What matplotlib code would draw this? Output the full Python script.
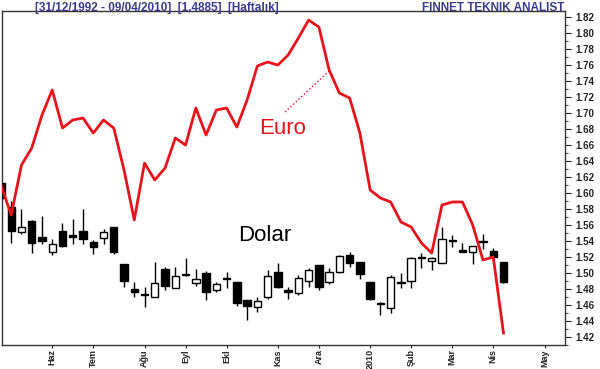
import matplotlib
matplotlib.use("Agg")
from matplotlib import pyplot as plt
from matplotlib.ticker import MultipleLocator

plt.rcParams['font.family'] = ['Liberation Sans', 'DejaVu Sans']

# weekly USD candles (open, high, low, close)
dolar_open = [1.6125, 1.5825, 1.551, 1.565, 1.545, 1.526, 1.5525, 1.547, 1.5525, 1.539,
              1.5438, 1.5575, 1.5113, 1.48, 1.4738, 1.47, 1.505, 1.4813, 1.4988, 1.4875,
              1.5, 1.4788, 1.4938, 1.4888, 1.4663, 1.4575, 1.47, 1.5013, 1.4788, 1.475,
              1.49, 1.51, 1.4888, 1.5013, 1.5225, 1.5138, 1.4888, 1.4613, 1.4563, 1.4888,
              1.49, 1.52, 1.515, 1.5125, 1.5413, 1.5288, 1.5263, 1.5388, 1.5275, 1.5138]
dolar_high = [1.615, 1.59, 1.58, 1.5663, 1.571, 1.5425, 1.5625, 1.5675, 1.58, 1.5413,
              1.555, 1.5575, 1.5113, 1.4888, 1.4825, 1.5138, 1.5075, 1.5075, 1.5188, 1.505,
              1.5025, 1.4888, 1.5013, 1.4888, 1.4663, 1.47, 1.5038, 1.5125, 1.4825, 1.4975,
              1.5063, 1.51, 1.5063, 1.522, 1.5263, 1.5138, 1.4888, 1.4638, 1.4975, 1.5,
              1.52, 1.525, 1.52, 1.5575, 1.5475, 1.5375, 1.5338, 1.5488, 1.5313, 1.5138]
dolar_low = [1.59, 1.5375, 1.549, 1.525, 1.536, 1.5225, 1.5325, 1.536, 1.536, 1.5238,
             1.536, 1.5238, 1.4825, 1.47, 1.4575, 1.47, 1.4788, 1.4813, 1.4963, 1.4838,
             1.4663, 1.4763, 1.4813, 1.4588, 1.4413, 1.4513, 1.4675, 1.4813, 1.4675, 1.4725,
             1.4825, 1.4788, 1.4863, 1.5, 1.5075, 1.4925, 1.4663, 1.4475, 1.45, 1.4813,
             1.4813, 1.5063, 1.5038, 1.5125, 1.5325, 1.5263, 1.5113, 1.53, 1.52, 1.4875]
dolar_close = [1.594, 1.5525, 1.5575, 1.5375, 1.54, 1.536, 1.5338, 1.5455, 1.5425, 1.5325,
               1.5513, 1.5263, 1.49, 1.4763, 1.4725, 1.4875, 1.4838, 1.4963, 1.4975, 1.4925,
               1.4763, 1.4863, 1.4925, 1.4625, 1.4588, 1.465, 1.4963, 1.4825, 1.4763, 1.4938,
               1.5038, 1.4825, 1.5013, 1.5213, 1.5125, 1.4988, 1.4675, 1.4625, 1.495, 1.4875,
               1.5188, 1.5188, 1.5188, 1.5425, 1.54, 1.5263, 1.5338, 1.54, 1.52, 1.4885]

# weekly euro closes
euro = [1.61, 1.5725, 1.635, 1.6563, 1.6975, 1.7288, 1.6813, 1.6913, 1.6938, 1.675,
        1.6913, 1.6813, 1.6288, 1.5663, 1.6375, 1.6163, 1.6313, 1.6688, 1.66, 1.7063,
        1.6725, 1.7038, 1.7063, 1.6825, 1.7163, 1.7588, 1.7638, 1.76, 1.7725, 1.7938,
        1.8163, 1.8075, 1.7538, 1.725, 1.7188, 1.675, 1.6038, 1.5938, 1.5888, 1.5638,
        1.5575, 1.5375, 1.525, 1.585, 1.5888, 1.5888, 1.56, 1.5163, 1.52, 1.425]

month_pos = [5, 9, 14, 18, 22, 27, 31, 36, 40, 44, 48, 53]
month_labels = ["Haz", "Tem", "Ağu", "Eyl", "Ekl", "Kas", "Ara", "2010", "Şub", "Mar", "Nis", "May"]

fig = plt.figure(figsize=(6, 3.69), dpi=100)
ax = fig.add_axes([0.0033, 0.065, 0.9384, 0.905])

w = 0.72
for i in range(len(dolar_open)):
    o, h, l, c = dolar_open[i], dolar_high[i], dolar_low[i], dolar_close[i]
    ax.vlines(i, l, h, color='black', lw=1, zorder=2)
    face = 'white' if c >= o else 'black'
    ax.bar(i, abs(c - o) or 0.0008, width=w, bottom=min(o, c), color=face,
           edgecolor='black', linewidth=1, zorder=3)

ax.plot(range(len(euro)), euro, color='#e8131b', lw=2, zorder=4)

ax.text(27.5, 1.6813, "Euro", color='#e8131b', fontsize=16, ha='center', va='center')
ax.plot([27.7, 32.1], [1.7013, 1.7538], color='#e8131b', lw=1, ls=':')
ax.text(25.75, 1.5475, "Dolar", color='black', fontsize=16, ha='center', va='center')

ax.set_xlim(0.1, 55.0)
ax.set_ylim(1.41, 1.8275)
ax.yaxis.tick_right()
ax.yaxis.set_major_locator(MultipleLocator(0.02))
ax.yaxis.set_minor_locator(MultipleLocator(0.01))
ax.set_yticklabels([f"{t:.2f}" for t in ax.get_yticks()])
ax.tick_params(axis='y', which='both', labelsize=7, colors='#222222', direction='out')
ax.tick_params(axis='y', which='major', length=4)
ax.tick_params(axis='y', which='minor', length=2)
for lab in ax.get_yticklabels():
    lab.set_fontweight('bold')

ax.set_xticks(month_pos)
ax.set_xticklabels(month_labels, rotation=90, fontsize=6.5, fontweight='bold', color='#222222')
ax.tick_params(axis='x', length=2, pad=1, direction='out', colors='#222222')

for s in ax.spines.values():
    s.set_color('#333333')
    s.set_linewidth(1)

fig.text(0.058, 0.995, "[31/12/1992 - 09/04/2010]  [1.4885]  [Haftalık]", color='#3c3c8c',
         fontsize=8.5, fontweight='bold', va='top')
fig.text(0.94, 0.995, "FINNET TEKNIK ANALIST", color='#3c3c8c',
         fontsize=8.5, fontweight='bold', va='top', ha='right')

fig.savefig("out.png", dpi=100)
